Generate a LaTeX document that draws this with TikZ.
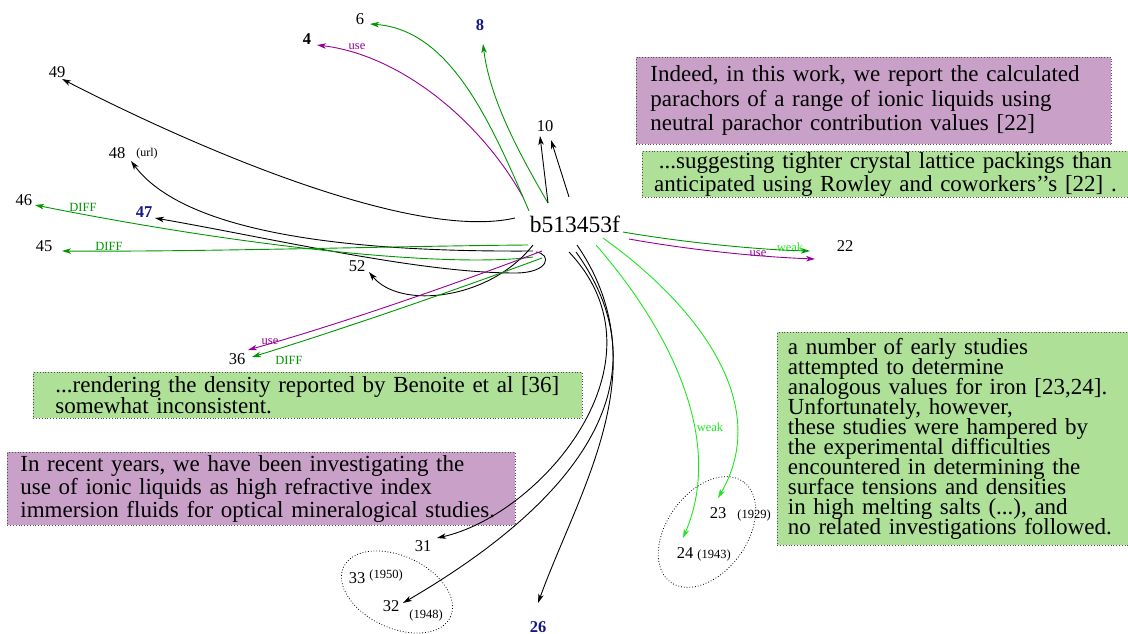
\documentclass[tikz,border=0pt]{standalone}
\usepackage{fontspec}
\setmainfont{Liberation Serif}
\usetikzlibrary{arrows.meta,shapes.geometric}
\definecolor{dgreen}{RGB}{0,150,0}
\definecolor{lgreen}{RGB}{30,230,30}
\definecolor{vio}{RGB}{150,0,150}
\definecolor{navy}{RGB}{20,20,140}
\definecolor{boxpurple}{RGB}{200,160,200}
\definecolor{boxgreen}{RGB}{174,224,152}
\definecolor{boxline}{RGB}{80,80,80}
\newcommand{\keepline}[1]{\mbox{#1}}
% box text: fixed baseline distance even when lines touch
\newcommand{\boxfont}[1]{\fontsize{23}{#1}\selectfont\lineskiplimit=-50pt\lineskip=0pt}

\begin{document}
\begin{tikzpicture}[x=1pt,y=-1pt,
  reflabel/.style={inner sep=0pt, font=\fontsize{16.5}{19}\selectfont},
  keylabel/.style={inner sep=0pt, font=\fontsize{16.5}{19}\selectfont\bfseries, text=navy},
  hublabel/.style={inner sep=0pt, font=\fontsize{23.5}{26}\selectfont},
  smalltag/.style={inner sep=0pt, font=\fontsize{12.5}{14}\selectfont},
  citeline/.style={line width=0.9pt, -{Stealth[length=9pt,width=5.5pt,inset=2.5pt]}},
  excerpt/.style={draw=boxline, dotted, line width=0.8pt, inner ysep=0pt, anchor=north west},
  yeargroup/.style={draw=black, dotted, line width=0.8pt, ellipse, inner sep=0pt},
]
\useasboundingbox (0,0) rectangle (1128,634);

% quoted passages
\node[excerpt, fill=boxpurple, text width=447pt, inner xsep=14pt, minimum height=87pt,
      align=left, font=\boxfont{24.5}] (q22a) at (636,57)
  {\keepline{Indeed, in this work, we report the calculated}\\\keepline{parachors of a range of ionic liquids using}\\\keepline{neutral parachor contribution values [22]}};
\node[excerpt, fill=boxgreen, text width=476pt, inner xsep=5pt, minimum height=46pt,
      align=center, font=\boxfont{23.5}] (q22b) at (642,151)
  {\keepline{...suggesting tighter crystal lattice packings than}\\\keepline{anticipated using Rowley and coworkers’’s [22] .}};
\node[excerpt, fill=boxgreen, text width=505pt, inner xsep=22pt, minimum height=46pt,
      align=left, font=\boxfont{21}] (q36) at (33,372)
  {\keepline{...rendering the density reported by Benoite et al [36]}\\\keepline{somewhat inconsistent.}};
\node[excerpt, fill=boxpurple, text width=482pt, inner xsep=13pt, minimum height=73pt,
      align=left, font=\boxfont{23}] (q31) at (7,452)
  {\keepline{In recent years, we have been investigating the}\\\keepline{use of ionic liquids as high refractive index}\\\keepline{immersion fluids for optical mineralogical studies.}};
\node[excerpt, fill=boxgreen, text width=330pt, inner xsep=10.5pt, minimum height=213pt,
      align=left, font=\boxfont{19.9}] (q23) at (777,332)
  {\keepline{a number of early studies}\\\keepline{attempted to determine}\\\keepline{analogous values for iron [23,24].}\\\keepline{Unfortunately, however,}\\\keepline{these studies were hampered by}\\\keepline{the experimental difficulties}\\\keepline{encountered in determining the}\\\keepline{surface tensions and densities}\\\keepline{in high melting salts (...), and}\\\keepline{no related investigations followed.}};

% year groups
\node[yeargroup, rotate=-25, minimum width=118pt, minimum height=72pt] (g3233) at (397,592) {};
\node[yeargroup, rotate=54, minimum width=124pt, minimum height=80pt] (g2324) at (707,532) {};

% the citing paper and the cited references
\node[hublabel] (main) at (575,224) {b513453f};
\node[reflabel] (n6) at (360,19) {6};
\node[reflabel, font=\fontsize{16.5}{19}\selectfont\bfseries] (n4) at (307,39) {4};
\node[keylabel] (n8) at (480,25) {8};
\node[reflabel] (n49) at (57,72) {49};
\node[reflabel] (n10) at (545,126) {10};
\node[reflabel] (n48) at (117,153) {48};
\node[smalltag, font=\fontsize{12}{14}\selectfont] (u48) at (147,154) {(url)};
\node[reflabel] (n46) at (24,200) {46};
\node[keylabel] (n47) at (144,212) {47};
\node[reflabel] (n45) at (44,246) {45};
\node[reflabel] (n52) at (357,266) {52};
\node[reflabel] (n22) at (845,246) {22};
\node[reflabel] (n36) at (237,359) {36};
\node[reflabel] (n31) at (423,546) {31};
\node[reflabel] (n33) at (357,578) {33};
\node[smalltag] (y33) at (386,575) {(1950)};
\node[reflabel] (n32) at (391,606) {32};
\node[smalltag] (y32) at (426,615) {(1948)};
\node[keylabel] (n26) at (538,627) {26};
\node[reflabel] (n23) at (718,513) {23};
\node[smalltag] (y23) at (754,515) {(1929)};
\node[reflabel] (n24) at (685,553) {24};
\node[smalltag] (y24) at (714,555) {(1943)};

% edge labels
\node[smalltag, text=vio] (l4) at (357,47) {use};
\node[smalltag, text=dgreen] (l46) at (83,207) {DIFF};
\node[smalltag, text=dgreen] (l45) at (109,246) {DIFF};
\node[smalltag, text=lgreen] (l22w) at (790,247) {weak};
\node[smalltag, text=vio] (l22u) at (758,254) {use};
\node[smalltag, text=vio] (l36u) at (270,342) {use};
\node[smalltag, text=dgreen] (l36d) at (289,360) {DIFF};
\node[smalltag, text=lgreen] (l24) at (710,427) {weak};

% citation links, upward and leftward
\draw[citeline] ([shift={(-60,-6)}]main.center) .. controls (420,240) and (220,160) .. ([shift={(5,7)}]n49.center);
\draw[citeline, vio] ([shift={(-52,-27)}]main.center) .. controls (480,120) and (400,55) .. ([shift={(10,6)}]n4.center);
\draw[citeline, dgreen] ([shift={(-46,-13)}]main.center) .. controls (490,120) and (450,30) .. ([shift={(10,5)}]n6.center);
\draw[citeline, dgreen] ([shift={(-27,-21)}]main.center) .. controls (520,155) and (490,100) .. ([shift={(3,19)}]n8.center);
\draw[citeline] ([shift={(-27,-21)}]main.center) -- ([shift={(-5,10)}]n10.center);
\draw[citeline] ([shift={(-6,-27)}]main.center) -- ([shift={(6,14)}]n10.center);
\draw[citeline] ([shift={(-42,27)}]main.center) .. controls (380,252) and (190,240) .. ([shift={(14,8)}]n48.center);
\draw[citeline] ([shift={(-39,28)}]main.center) .. controls (552,254) and (550,273) .. (515,273)
  .. controls (420,273) and (280,240) .. ([shift={(11,6)}]n47.center);
\draw[citeline, dgreen] ([shift={(-42,33)}]main.center) .. controls (450,268) and (250,248) .. ([shift={(11,5)}]n46.center);
\draw[citeline, dgreen] ([shift={(-47,21)}]main.center) .. controls (400,246) and (200,252) .. ([shift={(18,5)}]n45.center);
\draw[citeline] ([shift={(-42,21)}]main.center) .. controls (490,300) and (400,310) .. ([shift={(12,6)}]n52.center);
\draw[citeline, vio] ([shift={(-33,27)}]main.center) .. controls (450,286) and (340,324) .. ([shift={(11,-9)}]n36.center);
\draw[citeline, dgreen] ([shift={(-33,34)}]main.center) .. controls (450,292) and (340,330) .. ([shift={(15,-2)}]n36.center);

% citation links, rightward and downward
\draw[citeline, dgreen] ([shift={(48,8)}]main.center) .. controls (680,242) and (760,250) .. ([shift={(-35,5)}]n22.center);
\draw[citeline, vio] ([shift={(54,15)}]main.center) .. controls (690,250) and (760,257) .. ([shift={(-30,13)}]n22.center);
\draw[citeline, lgreen] ([shift={(28,14)}]main.center) .. controls (690,300) and (775,400) .. ([shift={(0,-15)}]n23.center);
\draw[citeline, lgreen] ([shift={(21,21)}]main.center) .. controls (670,330) and (725,440) .. ([shift={(-2,-15)}]n24.center);
\draw[citeline] ([shift={(-6,28)}]main.center) .. controls (673,362) and (540,515) .. ([shift={(14,-8)}]n31.center);
\draw[citeline] ([shift={(1,28)}]main.center) .. controls (688,408) and (521,534) .. ([shift={(12,-3)}]n32.center);
\draw[citeline] ([shift={(2,21)}]main.center) .. controls (660,366) and (580,488) .. ([shift={(0,-24)}]n26.center);
\end{tikzpicture}
\end{document}
